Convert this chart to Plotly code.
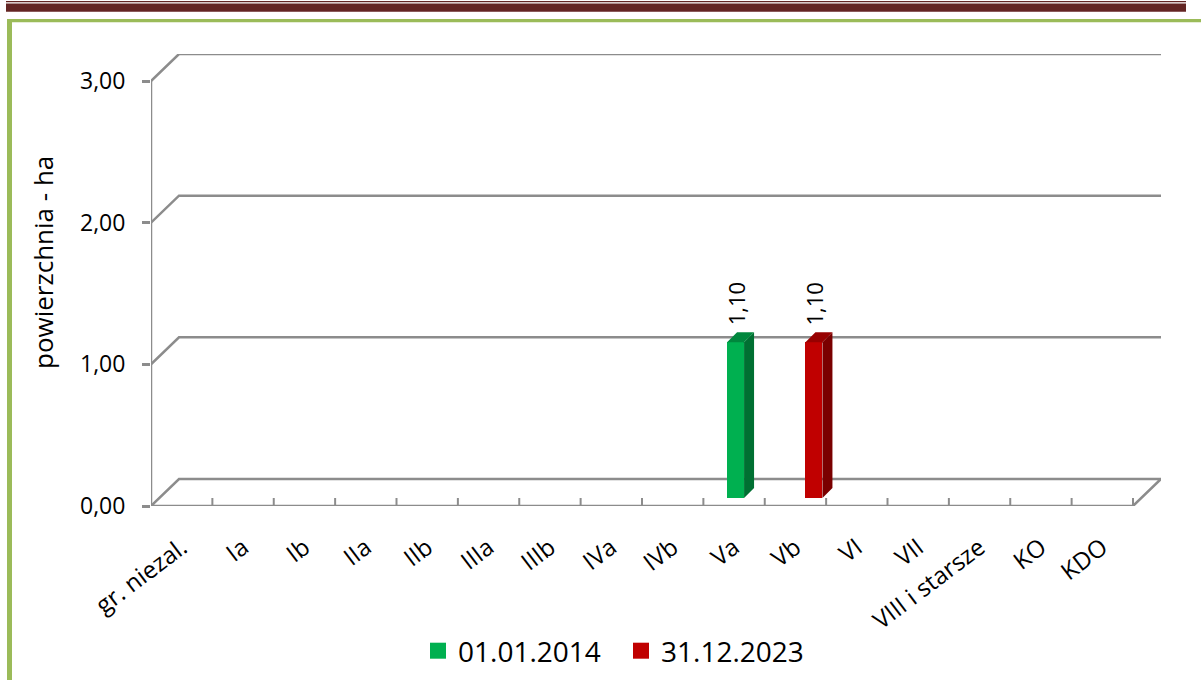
import plotly.graph_objects as go

# ---- data -------------------------------------------------------------
categories = ["gr. niezal.", "Ia", "Ib", "IIa", "IIb", "IIIa", "IIIb", "IVa",
              "IVb", "Va", "Vb", "VI", "VII", "VIII i starsze", "KO", "KDO"]
series_names = ["01.01.2014", "31.12.2023"]
values_2014 = [0, 0, 0, 0, 0, 0, 0, 0, 0, 1.10, 0, 0, 0, 0, 0, 0]
values_2023 = [0, 0, 0, 0, 0, 0, 0, 0, 0, 0, 1.10, 0, 0, 0, 0, 0]
y_ticks = [0, 1, 2, 3]
y_tick_labels = ["0,00", "1,00", "2,00", "3,00"]
y_title = "powierzchnia - ha"

# ---- geometry (pixels) -------------------------------------------------
FIG_W, FIG_H = 1201, 680
PLOT_L, PLOT_R, PLOT_T, PLOT_B = 151, 1161, 54, 506
FRONT_R = 1133            # right end of the front floor edge
FRONT_TOP = 81            # pixel row of the highest y tick on the front axis
DEPTH_X, DEPTH_Y = 28, 27  # perspective offset of the back wall

n = len(categories)
unit_x = (FRONT_R - PLOT_L) / n
unit_y = (PLOT_B - FRONT_TOP) / max(y_ticks)
dx = DEPTH_X / unit_x
dy = DEPTH_Y / unit_y
x_min = -0.5
x_front_max = n - 0.5
x_max = x_front_max + dx
y_max = max(y_ticks) + dy

# bar placement inside the 3-D box
BAR_W_PX = 17
BAR_OFF_PX = 8.5
BAR_SHIFT_X_PX = 10
BAR_BASE_PX = 8
BAR_DEPTH_PX = 10
bar_w = BAR_W_PX / unit_x
bar_base = BAR_BASE_PX / unit_y
bd_x = BAR_DEPTH_PX / unit_x
bd_y = BAR_DEPTH_PX / unit_y

GRID = "#8C8C8C"
GRID_W = 2.5
FONT = "Open Sans"

styles = [
    dict(front="#00B050", side="#007032", top="#00873D"),
    dict(front="#C00000", side="#7A0000", top="#970000"),
]


def paper_x(px):
    return (px - PLOT_L) / (PLOT_R - PLOT_L)


def paper_y(py):
    return (PLOT_B - py) / (PLOT_B - PLOT_T)


fig = go.Figure()
shapes = []
annotations = []

# ---- 3-D box: floor, back-wall gridlines, front axis ---------------------
shapes.append(dict(
    type="path", xref="x", yref="y", layer="below",
    path=(f"M{x_min},0 L{x_front_max},0 L{x_front_max + dx},{dy} "
          f"L{x_min + dx},{dy} Z"),
    line=dict(color=GRID, width=GRID_W)))
for v in y_ticks[1:]:
    shapes.append(dict(
        type="path", xref="x", yref="y", layer="below",
        path=f"M{x_min},{v} L{x_min + dx},{v + dy} L{x_max},{v + dy}",
        line=dict(color=GRID, width=GRID_W)))
shapes.append(dict(type="line", xref="x", yref="y", layer="below",
                   x0=x_min, x1=x_min, y0=0, y1=max(y_ticks),
                   line=dict(color=GRID, width=GRID_W)))
# category separators on the front edge
for k in range(1, n + 1):
    xb = x_min + k
    shapes.append(dict(type="line", xref="x", yref="y", layer="below",
                       x0=xb, x1=xb, y0=0, y1=8 / unit_y,
                       line=dict(color=GRID, width=2)))

# ---- bars -----------------------------------------------------------------
for s, (name, vals) in enumerate(zip(series_names, [values_2014, values_2023])):
    sign = -1 if s == 0 else 1
    centers = [i + (sign * BAR_OFF_PX + BAR_SHIFT_X_PX) / unit_x for i in range(n)]
    st = styles[s]
    fig.add_trace(go.Bar(
        x=centers, y=vals, base=[bar_base] * n, width=bar_w,
        marker=dict(color=st["front"], line=dict(width=0)),
        name=name, showlegend=False, hoverinfo="skip"))
    for xc, v in zip(centers, vals):
        if v <= 0:
            continue
        xl, xr = xc - bar_w / 2, xc + bar_w / 2
        y0, y1 = bar_base, bar_base + v
        shapes.append(dict(
            type="path", xref="x", yref="y", layer="above",
            path=(f"M{xr},{y0} L{xr + bd_x},{y0 + bd_y} "
                  f"L{xr + bd_x},{y1 + bd_y} L{xr},{y1} Z"),
            fillcolor=st["side"], line=dict(width=0)))
        shapes.append(dict(
            type="path", xref="x", yref="y", layer="above",
            path=(f"M{xl},{y1} L{xl + bd_x},{y1 + bd_y} "
                  f"L{xr + bd_x},{y1 + bd_y} L{xr},{y1} Z"),
            fillcolor=st["top"], line=dict(width=0)))
        annotations.append(dict(
            x=xc, y=y1, xref="x", yref="y", showarrow=False,
            text=f"{v:.2f}".replace(".", ","), textangle=-90,
            xanchor="center", yanchor="bottom", yshift=15,
            font=dict(family=FONT, size=22, color="#000000")))
    # legend entry
    fig.add_trace(go.Scatter(
        x=[None], y=[None], mode="markers", name=name,
        marker=dict(symbol="square", size=18, color=st["front"])))

# ---- axis title -------------------------------------------------------------
annotations.append(dict(
    x=paper_x(43), y=paper_y(263), xref="paper", yref="paper",
    text=y_title, textangle=-90, showarrow=False,
    xanchor="center", yanchor="middle",
    font=dict(family=FONT, size=26, color="#000000")))

# ---- page decoration: header band and green frame ------------------------
shapes.append(dict(type="rect", xref="paper", yref="paper", layer="above",
                   x0=paper_x(6), x1=paper_x(1186), y0=paper_y(3.5), y1=paper_y(11.7),
                   fillcolor="#632523", line=dict(width=0)))
shapes.append(dict(type="rect", xref="paper", yref="paper", layer="above",
                   x0=paper_x(6), x1=paper_x(1186), y0=paper_y(1), y1=paper_y(2.2),
                   fillcolor="#632523", line=dict(width=0)))
shapes.append(dict(type="rect", xref="paper", yref="paper", layer="above",
                   x0=paper_x(7), x1=paper_x(FIG_W + 2), y0=paper_y(19), y1=paper_y(22.3),
                   fillcolor="#9BBB59", line=dict(width=0)))
shapes.append(dict(type="rect", xref="paper", yref="paper", layer="above",
                   x0=paper_x(7), x1=paper_x(12), y0=paper_y(19), y1=paper_y(FIG_H + 2),
                   fillcolor="#9BBB59", line=dict(width=0)))

fig.update_layout(
    width=FIG_W, height=FIG_H,
    margin=dict(l=PLOT_L, r=FIG_W - PLOT_R, t=PLOT_T, b=FIG_H - PLOT_B, autoexpand=False),
    paper_bgcolor="#FFFFFF", plot_bgcolor="rgba(0,0,0,0)",
    barmode="overlay", bargap=0,
    showlegend=True,
    legend=dict(orientation="h", x=paper_x(418), xanchor="left",
                y=paper_y(651), yanchor="middle",
                entrywidth=158, entrywidthmode="pixels",
                font=dict(family=FONT, size=28, color="#000000"),
                bgcolor="rgba(0,0,0,0)"),
    xaxis=dict(range=[x_min, x_max], tickmode="array",
               tickvals=list(range(n)), ticktext=categories,
               tickangle=-37, ticks="", showgrid=False, zeroline=False,
               showline=False, ticklabelstandoff=22,
               tickfont=dict(family=FONT, size=24, color="#000000"),
               fixedrange=True),
    yaxis=dict(range=[0, y_max], tickmode="array",
               tickvals=y_ticks, ticktext=y_tick_labels,
               ticks="outside", ticklen=8, tickwidth=GRID_W, tickcolor=GRID,
               showgrid=False, zeroline=False, showline=False,
               ticklabelstandoff=12,
               tickfont=dict(family=FONT, size=23, color="#000000"),
               fixedrange=True),
    shapes=shapes, annotations=annotations,
)

fig.write_html("out.html")
